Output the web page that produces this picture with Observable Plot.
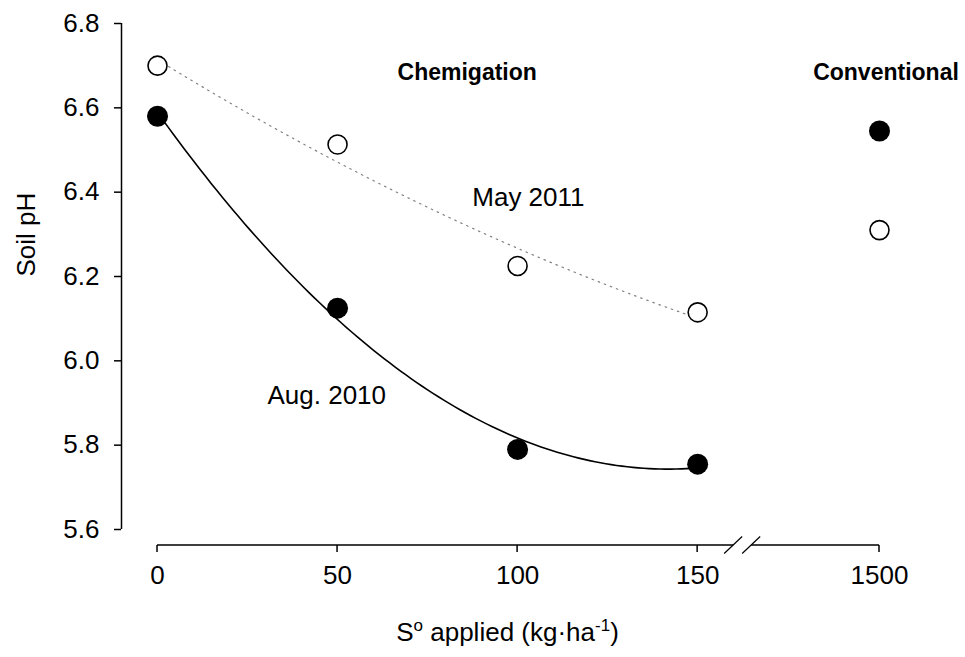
<!DOCTYPE html>
<html>
<head>
<meta charset="utf-8">
<script src="https://cdn.jsdelivr.net/npm/d3@7"></script>
<script src="https://cdn.jsdelivr.net/npm/@observablehq/plot@0.6"></script>
<style>
  html, body { margin: 0; padding: 0; background: #fff; overflow: hidden; }
  #chart svg { display: block; }
</style>
</head>
<body>
<div id="chart"></div>
<script>
// Elemental sulfur rate (kg/ha) and where each rate sits on the broken x axis
const doseLabels = ["0", "50", "100", "150", "1500"];
const dosePos = [0, 50, 100, 150, 200.5];
const chemigationCount = 4; // first four rates were applied by chemigation

// Soil pH by sampling date
const aug2010 = [6.58, 6.125, 5.79, 5.755, 6.545];
const may2011 = [6.70, 6.513, 6.225, 6.115, 6.31];

const yTicks = [5.6, 5.8, 6.0, 6.2, 6.4, 6.6, 6.8];
const axisBreak = [160, 165];

// Text annotations placed in data coordinates
const headings = [
  {text: "Chemigation", x: 86, y: 6.684},
  {text: "Conventional", x: 202.3, y: 6.684}
];
const seriesNotes = [
  {text: "May 2011", x: 103, y: 6.387},
  {text: "Aug. 2010", x: 47, y: 5.918}
];

// Least-squares quadratic through the chemigation rates
function quadFit(xs, ys) {
  let s = [0, 0, 0, 0, 0], t = [0, 0, 0];
  xs.forEach((x, i) => {
    for (let k = 0; k < 5; k++) s[k] += x ** k;
    for (let k = 0; k < 3; k++) t[k] += ys[i] * x ** k;
  });
  const A = [[s[0], s[1], s[2], t[0]], [s[1], s[2], s[3], t[1]], [s[2], s[3], s[4], t[2]]];
  for (let c = 0; c < 3; c++) {
    for (let r = c + 1; r < 3; r++) {
      const f = A[r][c] / A[c][c];
      for (let k = c; k < 4; k++) A[r][k] -= f * A[c][k];
    }
  }
  const b = [0, 0, 0];
  for (let r = 2; r >= 0; r--) {
    let v = A[r][3];
    for (let k = r + 1; k < 3; k++) v -= A[r][k] * b[k];
    b[r] = v / A[r][r];
  }
  return x => b[0] + b[1] * x + b[2] * x * x;
}

const chemX = dosePos.slice(0, chemigationCount);
const fitAug = quadFit(chemX, aug2010.slice(0, chemigationCount));
const fitMay = quadFit(chemX, may2011.slice(0, chemigationCount));
const fitX = d3.range(0, 150.001, 1.5);
const idx = d3.range(dosePos.length);

// x axis with a break between 150 and 1500
function brokenXAxis(index, {x, y}) {
  const g = d3.create("svg:g")
    .attr("fill", "none")
    .attr("stroke", "black")
    .attr("stroke-width", 1.5);
  const y0 = y(5.6) + 16;
  const xa = x(dosePos[0]), xd = x(dosePos[dosePos.length - 1]);
  const xb = x(axisBreak[0]), xc = x(axisBreak[1]);
  g.append("path").attr("d", `M${xa},${y0}H${xb}M${xc},${y0}H${xd}`);
  for (const p of dosePos) g.append("path").attr("d", `M${x(p)},${y0}v7`);
  for (const b of axisBreak) {
    g.append("path")
      .attr("stroke-width", 1.2)
      .attr("d", `M${x(b) - 9},${y0 + 8.5}L${x(b) + 9},${y0 - 8.5}`);
  }
  return g.node();
}

const font = "'Liberation Sans', Arial, Helvetica, sans-serif";
const fs = 26;

const chart = Plot.plot({
  width: 965,
  height: 657,
  marginLeft: 121,
  marginRight: 86,
  marginTop: 23,
  marginBottom: 128,
  style: {fontFamily: font, fontSize: fs + "px", color: "black", background: "white"},
  x: {domain: [-10, 200.5], axis: null},
  y: {domain: [5.6, 6.8], axis: null},
  marks: [
    // y axis
    Plot.ruleX([-10], {y1: 5.6, y2: 6.8, strokeWidth: 1.5, stroke: "black"}),
    Plot.axisY(yTicks, {
      tickSize: 7, tickPadding: 15, fontSize: fs, strokeWidth: 1.5,
      tickFormat: d3.format(".1f"), label: null
    }),
    Plot.text(["Soil pH"], {
      frameAnchor: "left", dx: -95, rotate: -90, fontSize: fs, fill: "black"
    }),
    // x axis
    brokenXAxis,
    Plot.text(idx, {
      x: i => dosePos[i], text: i => doseLabels[i],
      frameAnchor: "bottom", dy: 54, fontSize: fs, fill: "black"
    }),
    Plot.text(["S° applied (kg·ha-1)"], {
      frameAnchor: "bottom", dx: 7, dy: 111, fontSize: fs, fill: "black",
      className: "xlabel"
    }),
    // fitted curves
    Plot.line(fitX, {
      x: d => d, y: d => fitMay(d), stroke: "#808080", strokeWidth: 1.2,
      strokeDasharray: "1.5,5"
    }),
    Plot.line(fitX, {
      x: d => d, y: d => fitAug(d), stroke: "black", strokeWidth: 1.6
    }),
    // observations
    Plot.dot(idx, {
      x: i => dosePos[i], y: i => may2011[i], r: 9.5,
      fill: "white", stroke: "black", strokeWidth: 1.6
    }),
    Plot.dot(idx, {
      x: i => dosePos[i], y: i => aug2010[i], r: 10.5,
      fill: "black", stroke: "none"
    }),
    // annotations
    Plot.text(headings, {
      x: "x", y: "y", text: "text", fill: "black",
      fontSize: 23, fontWeight: "bold"
    }),
    Plot.text(seriesNotes, {
      x: "x", y: "y", text: "text", fill: "black", fontSize: fs
    })
  ]
});

document.getElementById("chart").append(chart);

// Superscripts in the x-axis title
const lab = d3.select(chart).select(".xlabel text");
if (!lab.empty()) {
  lab.text(null);
  lab.append("tspan").text("S");
  lab.append("tspan").attr("dy", -10).attr("font-size", 17).text("o");
  lab.append("tspan").attr("dy", 10).text(" applied (kg·ha");
  lab.append("tspan").attr("dy", -10).attr("font-size", 17).text("-1");
  lab.append("tspan").attr("dy", 10).text(")");
}
</script>
</body>
</html>
